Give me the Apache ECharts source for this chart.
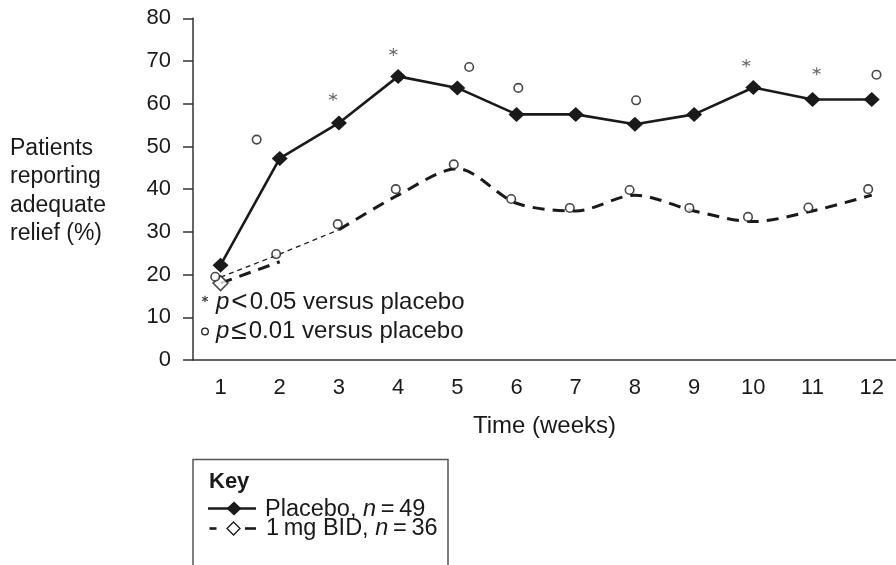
<!DOCTYPE html>
<html>
<head>
<meta charset="utf-8">
<script src="https://cdn.jsdelivr.net/npm/echarts@6/dist/echarts.min.js"></script>
<style>html,body{margin:0;padding:0;background:#fff}#c{width:896px;height:565px}</style>
</head>
<body>
<div id="c"></div>
<script>
// ---- data ----
const weeks = [1,2,3,4,5,6,7,8,9,10,11,12];
const placebo = [22.2, 47.2, 55.5, 66.4, 63.7, 57.5, 57.5, 55.2, 57.5, 63.8, 61.0, 61.0];
const bid = [18.0, 23.0, 30.5, 38.6, 44.8, 36.7, 34.9, 38.6, 34.9, 32.4, 34.9, 38.6];
// thin dashed connector drawn in the original between the first marks
const bidThinPath = [[1, 19.4], [2, 24.8], [3, 30.5]];
// significance marks (x position, y position) as placed in the figure
const placeboCircles = [[1.61, 51.6], [5.20, 68.6], [6.03, 63.7], [8.02, 60.8], [12.08, 66.8]];
const placeboStars = [[2.90, 61.6], [3.92, 72.1], [9.88, 69.5], [11.07, 67.6]];
const bidCircles = [[0.91, 19.5], [1.94, 24.8], [2.98, 31.8], [3.96, 40.0], [4.94, 45.8], [5.91, 37.7],
                    [6.90, 35.6], [7.91, 39.8], [8.92, 35.6], [9.91, 33.5], [10.93, 35.7], [11.94, 40.0]];

const FONT = 'Liberation Sans, Arial, sans-serif';
const INK = '#1a1a1a';
const starPath = 'path://M5 0 L5 10 M0.67 2.5 L9.33 7.5 M0.67 7.5 L9.33 2.5';

const placeboData = weeks.map((w, i) => [w, placebo[i]]);
const bidData = weeks.map((w, i) => [w, bid[i]]);

function starLines(cx, cy, r) {
  const out = [];
  for (let k = 0; k < 3; k++) {
    const a = Math.PI / 2 + k * Math.PI / 3;
    out.push({type: 'line', shape: {x1: cx - r * Math.cos(a), y1: cy - r * Math.sin(a), x2: cx + r * Math.cos(a), y2: cy + r * Math.sin(a)},
      style: {stroke: '#444', lineWidth: 1.2}});
  }
  return out;
}

const richNote = {
  i: {font: 'italic 24px ' + FONT, fill: INK},
  s: {font: '28px ' + FONT, fill: INK, padding: [0, 2, 0, 2]}
};

const chart = echarts.init(document.getElementById('c'), null, {renderer: 'canvas'});
chart.setOption({
  animation: false,
  textStyle: {fontFamily: FONT},
  grid: {left: 193, right: 0, top: 18.3, bottom: 205, containLabel: false},
  xAxis: {
    type: 'value', min: 0.535, max: 12.41,
    axisLine: {show: true, lineStyle: {color: '#333', width: 1.5}},
    axisTick: {show: false},
    splitLine: {show: false},
    axisLabel: {customValues: weeks, margin: 17, fontSize: 22, color: INK, fontFamily: FONT},
    name: 'Time (weeks)', nameLocation: 'middle', nameGap: 54,
    nameTextStyle: {fontSize: 24, color: INK, fontFamily: FONT}
  },
  yAxis: {
    type: 'value', min: 0, max: 80, interval: 10,
    axisLine: {show: true, lineStyle: {color: '#333', width: 1.5}},
    axisTick: {show: true, length: 10, lineStyle: {color: '#333', width: 1.5}},
    splitLine: {show: false},
    axisLabel: {margin: 22, fontSize: 22, color: INK, fontFamily: FONT}
  },
  series: [
    {
      name: 'bidThin', type: 'line', data: bidThinPath, symbol: 'none',
      lineStyle: {color: INK, width: 1.3, type: [5, 4]}, z: 2
    },
    {
      name: 'bidA', type: 'line', data: bidData.slice(0, 2), symbol: 'none',
      lineStyle: {color: INK, width: 3, type: [12, 8]}, z: 2
    },
    {
      name: 'bidB', type: 'line', data: bidData.slice(2), symbol: 'none', smooth: 0.3,
      lineStyle: {color: INK, width: 3, type: [12, 8]}, z: 2
    },
    {
      name: 'bidFirst', type: 'scatter', data: bidData.slice(0, 1), symbol: 'diamond', symbolSize: [15, 15],
      itemStyle: {color: '#fff', borderColor: INK, borderWidth: 1.5}, z: 4
    },
    {
      name: 'Placebo', type: 'line', data: placeboData, symbol: 'diamond', symbolSize: [16, 15],
      showAllSymbol: true,
      lineStyle: {color: INK, width: 2.6}, itemStyle: {color: INK}, z: 3
    },
    {
      name: 'circles', type: 'scatter', data: placeboCircles.concat(bidCircles), symbol: 'circle', symbolSize: 8.5,
      itemStyle: {color: '#fff', borderColor: INK, borderWidth: 1.6}, z: 5
    },
    {
      name: 'stars', type: 'scatter', data: placeboStars, symbol: starPath, symbolSize: 8,
      itemStyle: {color: 'none', borderColor: '#444', borderWidth: 1.1}, z: 5
    }
  ],
  graphic: [
    // y axis title
    {type: 'text', x: 10, y: 134, style: {text: 'Patients\nreporting\nadequate\nrelief (%)', font: '23px ' + FONT, fill: INK, lineHeight: 28.5}},
    // significance key
    ...starLines(205, 299, 3.3),
    {type: 'text', x: 216, y: 302, style: {
      text: '{i|p}{s|<}0.05 versus placebo', font: '24px ' + FONT, fill: INK, verticalAlign: 'middle',
      rich: richNote}},
    {type: 'circle', shape: {cx: 205, cy: 331.5, r: 3.3}, style: {fill: '#fff', stroke: INK, lineWidth: 1.3}},
    {type: 'text', x: 216, y: 331, style: {
      text: '{i|p}{s|\u2264}0.01 versus placebo', font: '24px ' + FONT, fill: INK, verticalAlign: 'middle',
      rich: richNote}},
    // key box
    {type: 'rect', shape: {x: 193, y: 459.5, width: 255, height: 130}, style: {fill: 'none', stroke: '#555', lineWidth: 1.5}},
    {type: 'text', x: 209, y: 482, style: {text: 'Key', font: 'bold 22px ' + FONT, fill: INK, verticalAlign: 'middle'}},
    {type: 'line', shape: {x1: 208, y1: 508.5, x2: 256, y2: 508.5}, style: {stroke: INK, lineWidth: 2.6}},
    {type: 'polygon', shape: {points: [[234, 501.5], [241.5, 508.5], [234, 515.5], [226.5, 508.5]]}, style: {fill: INK}},
    {type: 'text', x: 265, y: 509.5, style: {
      text: 'Placebo, {i|n}\u2009=\u200949', font: '23.5px ' + FONT, fill: INK, verticalAlign: 'middle',
      rich: {i: {font: 'italic 23.5px ' + FONT, fill: INK}}}},
    {type: 'line', shape: {x1: 209.5, y1: 528.5, x2: 216.5, y2: 528.5}, style: {stroke: INK, lineWidth: 2.6}},
    {type: 'polygon', shape: {points: [[233.5, 522], [240, 528.5], [233.5, 535], [227, 528.5]]}, style: {fill: '#fff', stroke: INK, lineWidth: 1.3}},
    {type: 'line', shape: {x1: 245, y1: 528.5, x2: 256, y2: 528.5}, style: {stroke: INK, lineWidth: 2.6}},
    {type: 'text', x: 266, y: 528.5, style: {
      text: '1\u2009mg BID, {i|n}\u2009=\u200936', font: '23.5px ' + FONT, fill: INK, verticalAlign: 'middle',
      rich: {i: {font: 'italic 23.5px ' + FONT, fill: INK}}}}
  ]
});
</script>
</body>
</html>
